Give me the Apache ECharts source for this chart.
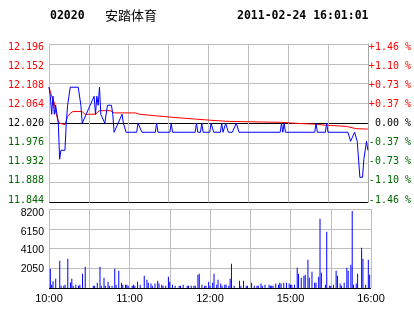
<!DOCTYPE html>
<html><head><meta charset="utf-8">
<script src="https://cdn.jsdelivr.net/npm/echarts@6/dist/echarts.min.js"></script>
<style>html,body{margin:0;padding:0;background:#fff}#c{width:414px;height:314px}</style>
</head><body><div id="c"></div>
<script>
const stockCode = '02020';
const stockName = '安踏体育';
const stamp = '2011-02-24 16:01:01';
const prevClose = 12.02;
const priceTickLabels = ['11.844','11.888','11.932','11.976','12.020','12.064','12.108','12.152','12.196'];
const pctTickLabels = ['-1.46 %','-1.10 %','-0.73 %','-0.37 %',' 0.00 %','+0.37 %','+0.73 %','+1.10 %','+1.46 %'];
const volTickLabels = ['', '2050', '4100', '6150', '8200'];
const timeTickMinutes = [0, 60, 120, 180, 240];
const timeTickLabels = ['10:00', '11:00', '12:00', '15:00', '16:00'];

// minutes after 10:00 (trading minutes) and last price
const priceMinutes = [0,1,2,3,4,5,6,7,8,9,12,13,14,15,16,22,24,25,26,28,31,34,35,36,37,38,39,40,42,43,44,47,48,49,50,52,55,56,58,66,67,68,70,80,81,82,91,92,93,110,111,112,114,115,116,121,122,123,124,129,130,131,132,133,134,135,138,141,142,143,174,175,176,177,178,200,201,202,208,209,210,225,227,228,230,232,233,234,236,237,238,239,240];
const prices = [12.10,12.08,12.04,12.08,12.04,12.06,12.04,12.02,11.94,11.96,11.96,12.02,12.06,12.08,12.10,12.10,12.06,12.02,12.02,12.04,12.06,12.08,12.04,12.08,12.06,12.10,12.04,12.04,12.02,12.02,12.06,12.06,12.04,12.00,12.00,12.02,12.04,12.02,12.00,12.00,12.02,12.02,12.00,12.00,12.02,12.00,12.00,12.02,12.00,12.00,12.02,12.00,12.00,12.02,12.00,12.00,12.02,12.02,12.00,12.00,12.02,12.00,12.00,12.02,12.02,12.00,12.00,12.02,12.02,12.00,12.00,12.02,12.00,12.02,12.00,12.00,12.02,12.00,12.00,12.02,12.00,12.00,11.98,11.98,12.00,11.98,11.98,11.90,11.90,11.94,11.96,11.98,11.96];

const avgMinutes = [0,2,4,5,7,8,12,14,16,18,25,27,35,38,46,49,65,68,86,98,111,125,136,175,185,200,207,224,231,240];
const avgPrices = [12.10,12.08,12.065,12.045,12.025,12.02,12.017,12.035,12.042,12.046,12.046,12.04,12.04,12.048,12.048,12.043,12.043,12.04,12.035,12.032,12.029,12.026,12.024,12.022,12.02,12.018,12.016,12.013,12.008,12.007];

const volMinutes = [1,2,3,5,8,9,11,12,14,16,17,18,20,22,23,25,27,33,34,36,38,39,41,42,44,45,47,49,50,52,54,55,57,58,59,62,63,64,66,68,71,73,74,76,77,79,81,82,84,85,87,89,90,92,94,97,98,100,103,104,106,108,109,111,112,114,116,117,119,120,122,123,125,126,128,129,131,132,134,135,136,138,142,143,145,147,148,151,153,155,156,158,159,161,164,165,166,167,169,171,172,173,175,177,179,180,181,183,185,186,188,190,191,193,194,196,198,199,201,202,203,206,207,209,210,212,214,215,217,218,220,222,223,225,226,227,229,230,233,234,236,238,239];
const volumes = [2000,350,700,970,2830,240,240,350,3040,580,970,240,350,240,350,1480,2210,240,240,550,2210,240,1070,240,650,240,240,2000,350,1800,550,350,350,350,240,240,350,240,650,350,1280,860,550,460,240,460,760,460,350,240,240,1170,650,350,240,240,240,350,240,240,240,240,240,1380,1480,350,240,240,650,240,550,1480,350,860,460,240,350,350,240,970,2520,240,760,240,760,240,240,550,240,240,240,460,240,350,350,240,240,240,460,350,550,460,550,550,460,350,350,350,2110,1480,1070,1280,1380,2930,1070,1690,550,550,1170,7190,1590,350,5850,240,240,350,1800,1280,460,240,550,2110,1800,2420,8000,350,460,1480,4180,3040,350,2930,1380];

const GRAY = '#bdbdbd';
const RED = '#ff0000';
const GREEN = '#006600';
const MONO = 'DejaVu Sans Mono';
const toY = p => Math.round((p - prevClose) * 100000) / 100;
const idxOf = v => Math.round((Number(v) + 176) / 44);
const sideColor = i => i < 4 ? GREEN : (i > 4 ? RED : '#000000');

// rich styles: nudges each price label slightly like the original's label spacing
function priceRich() {
  const r = {};
  for (let i = 0; i < 9; i++) {
    const pad = Math.round(2 * (-2.7 + 0.76 * i));
    r['o' + i] = {color: sideColor(i), fontFamily: MONO, fontSize: 10,
      padding: pad >= 0 ? [pad, 0, 0, 0] : [0, 0, -pad, 0]};
  }
  return r;
}
function volRich() {
  const r = {};
  for (let i = 0; i < 5; i++) {
    r['v' + i] = {color: '#000', fontFamily: 'Liberation Sans', fontSize: 10.5, padding: [2 * i, 0, 0, 0]};
  }
  return r;
}

const chart = echarts.init(document.getElementById('c'), null, {renderer: 'canvas'});
chart.setOption({
  animation: false,
  backgroundColor: '#ffffff',
  graphic: [
    {type: 'text', left: 50, top: 10, style: {text: stockCode, font: 'bold 11.5px "DejaVu Sans Mono"', fill: '#000'}},
    {type: 'text', left: 105, top: 8.5, style: {text: stockName, font: '13px "Noto Sans CJK SC"', fill: '#000'}},
    {type: 'text', left: 237, top: 10, style: {text: stamp, font: 'bold 11.5px "DejaVu Sans Mono"', fill: '#000'}}
  ],
  grid: [
    {left: 49, top: 44, width: 322, height: 158.5, show: false},
    {left: 49, top: 209, width: 322, height: 79, show: false}
  ],
  xAxis: [
    {type: 'value', gridIndex: 0, min: 0, max: 240, interval: 30,
     axisLine: {show: false}, axisTick: {show: false}, axisLabel: {show: false},
     splitLine: {show: true, lineStyle: {color: GRAY, width: 1}}},
    {type: 'value', gridIndex: 1, min: 0, max: 240, interval: 30,
     axisLine: {show: false}, axisTick: {show: false},
     axisLabel: {show: true, margin: 5, color: '#000', fontFamily: 'Liberation Sans', fontSize: 11,
       formatter: v => { const i = timeTickMinutes.indexOf(v); return i >= 0 ? timeTickLabels[i] : ''; }},
     splitLine: {show: true, lineStyle: {color: GRAY, width: 1}}}
  ],
  yAxis: [
    {type: 'value', gridIndex: 0, min: -176, max: 176, interval: 44, position: 'left',
     axisLine: {show: false}, axisTick: {show: false},
     axisLabel: {margin: 5, fontFamily: MONO, fontSize: 10,
       formatter: v => { const i = idxOf(v); return '{o' + i + '|' + priceTickLabels[i] + '}'; },
       rich: priceRich()},
     splitLine: {show: true, lineStyle: {color: ['#000000', GRAY, GRAY, GRAY, '#000000', GRAY, GRAY, GRAY, GRAY], width: 1}}},
    {type: 'value', gridIndex: 0, min: -176, max: 176, interval: 44, position: 'right',
     axisLine: {show: true, lineStyle: {color: '#a8a8a8'}}, axisTick: {show: false},
     axisLabel: {margin: 1, fontFamily: MONO, fontSize: 10, align: 'left',
       formatter: v => { const i = idxOf(v); return '{o' + i + '|' + pctTickLabels[i] + '}'; },
       rich: priceRich()},
     splitLine: {show: false}},
    {type: 'value', gridIndex: 1, min: 0, max: 8200, interval: 2050, position: 'left',
     axisLine: {show: false}, axisTick: {show: false},
     axisLabel: {margin: 5, color: '#000', fontFamily: 'Liberation Sans', fontSize: 10.5,
       formatter: v => { const i = Math.round(v / 2050); return volTickLabels[i] ? '{v' + i + '|' + volTickLabels[i] + '}' : ''; },
       rich: volRich()},
     splitLine: {show: true, lineStyle: {color: ['#000000', GRAY, GRAY, GRAY, GRAY], width: 1}}}
  ],
  series: [
    {type: 'line', xAxisIndex: 0, yAxisIndex: 0, showSymbol: false, symbol: 'none',
     lineStyle: {color: RED, width: 1}, z: 3,
     data: avgMinutes.map((t, i) => [t, toY(avgPrices[i])])},
    {type: 'line', xAxisIndex: 0, yAxisIndex: 0, showSymbol: false, symbol: 'none',
     lineStyle: {color: '#0000ff', width: 1}, z: 4,
     data: priceMinutes.map((t, i) => [t, toY(prices[i])])},
    {type: 'bar', xAxisIndex: 1, yAxisIndex: 2, barWidth: 1, itemStyle: {color: '#0000ff'},
     data: volMinutes.map((t, i) => [t, volumes[i]])}
  ]
});
</script></body></html>
